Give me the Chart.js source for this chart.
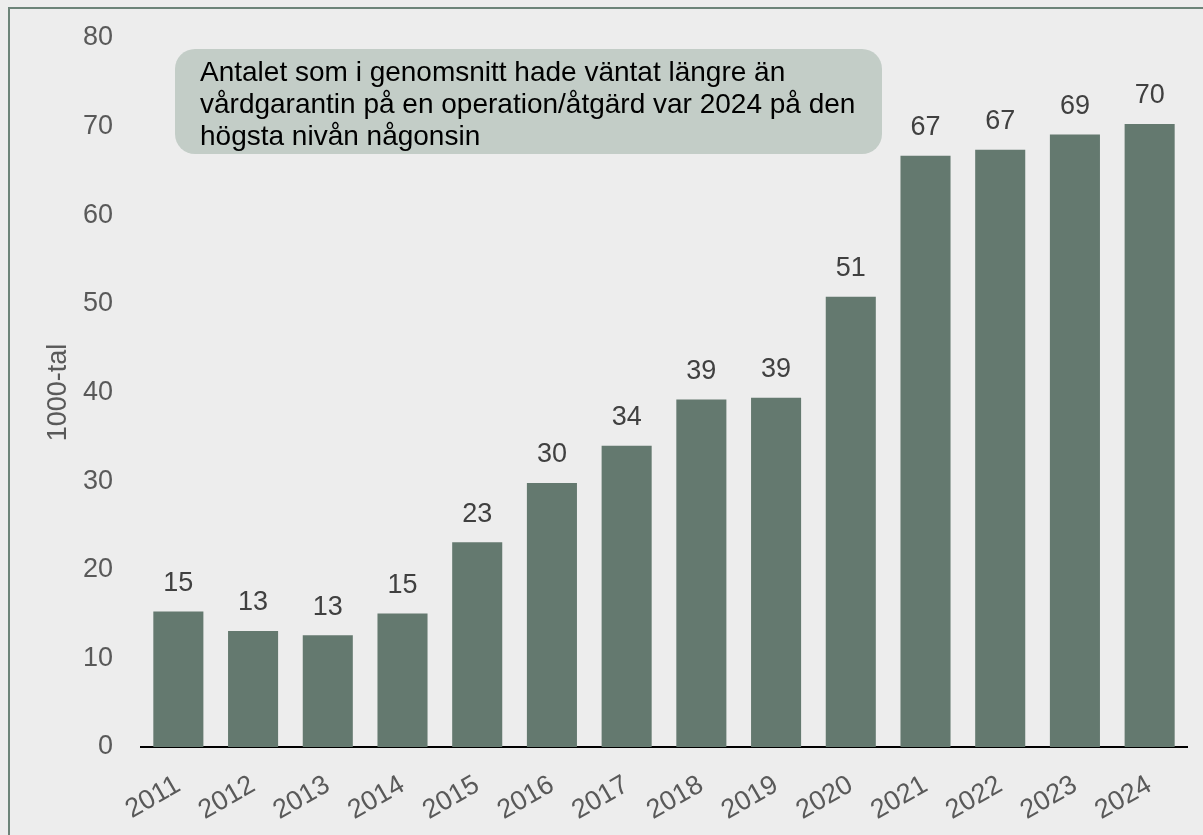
<!DOCTYPE html>
<html lang="sv">
<head>
<meta charset="utf-8">
<script src="https://cdn.jsdelivr.net/npm/chart.js@4"></script>
<style>
  html, body { margin: 0; padding: 0; background: #ededed; overflow: hidden; }
  #wrap { position: relative; width: 1203px; height: 835px; }
  #frame {
    position: absolute; left: 8px; top: 7px; width: 1220px; height: 860px;
    border: 2px solid #6d8479; box-sizing: border-box;
  }
  #note {
    position: absolute; left: 175px; top: 49px; width: 707px; height: 105px;
    background: #c3cdc7; border-radius: 20px; box-sizing: border-box;
    padding: 7px 0 0 25px;
    font-family: "Liberation Sans", Arial, sans-serif; font-size: 28px; line-height: 32px; color: #000;
  }
  canvas { position: absolute; left: 0; top: 0; }
</style>
</head>
<body>
<div id="wrap">
  <div id="frame"></div>
  <canvas id="chart" width="1203" height="835"></canvas>
  <div id="note">Antalet som i genomsnitt hade väntat längre än<br>vårdgarantin på en operation/åtgärd var 2024 på den<br>högsta nivån någonsin</div>
</div>
<script>
// Data (1000-tal)
const years = ['2011', '2012', '2013', '2014', '2015', '2016', '2017', '2018', '2019', '2020', '2021', '2022', '2023', '2024'];
const waiting = [15.3, 13.1, 12.6, 15.05, 23.1, 29.8, 34.0, 39.2, 39.4, 50.8, 66.7, 67.4, 69.1, 70.3];
const yTicks = [0, 10, 20, 30, 40, 50, 60, 70, 80];

const FONT = '"Liberation Sans", Arial, sans-serif';

// Etiketter ovanför staplarna
const valueLabels = {
    id: 'valueLabels',
    afterDatasetsDraw(chart) {
        const ctx = chart.ctx;
        const meta = chart.getDatasetMeta(0);
        ctx.save();
        ctx.font = '27px ' + FONT;
        ctx.fillStyle = '#404040';
        ctx.textAlign = 'center';
        ctx.textBaseline = 'middle';
        meta.data.forEach((bar, i) => {
            ctx.fillText(Math.round(waiting[i]), bar.x, bar.y - 28);
        });
        ctx.restore();
    }
};

new Chart(document.getElementById('chart'), {
    type: 'bar',
    data: {
        labels: years,
        datasets: [{
            data: waiting,
            backgroundColor: '#64796f',
            barPercentage: 0.67,
            categoryPercentage: 1.0
        }]
    },
    options: {
        responsive: false,
        animation: false,
        layout: { padding: { top: 38, right: 16, left: 0, bottom: 0 } },
        plugins: { legend: { display: false }, tooltip: { enabled: false } },
        scales: {
            x: {
                grid: { display: false, drawTicks: false },
                border: { display: true, color: '#000', width: 2 },
                ticks: {
                    color: '#595959', font: { family: FONT, size: 27 },
                    minRotation: 30, maxRotation: 30, padding: 22
                },
                afterFit(scale) { scale.height = 88; }
            },
            y: {
                min: 0, max: 80,
                afterBuildTicks(scale) { scale.ticks = yTicks.map(v => ({ value: v })); },
                // tick marks are hidden, tickLength only pushes the labels left
                grid: { display: false, drawTicks: true, tickLength: 24, color: 'rgba(0,0,0,0)' },
                border: { display: false },
                ticks: { color: '#595959', font: { family: FONT, size: 27 }, padding: 4 },
                title: {
                    display: true, text: '1000-tal', color: '#595959',
                    font: { family: FONT, size: 27 }, padding: { top: 42, bottom: 0 }
                },
                afterFit(scale) { scale.width = 141; }
            }
        }
    },
    plugins: [valueLabels]
});
</script>
</body>
</html>
